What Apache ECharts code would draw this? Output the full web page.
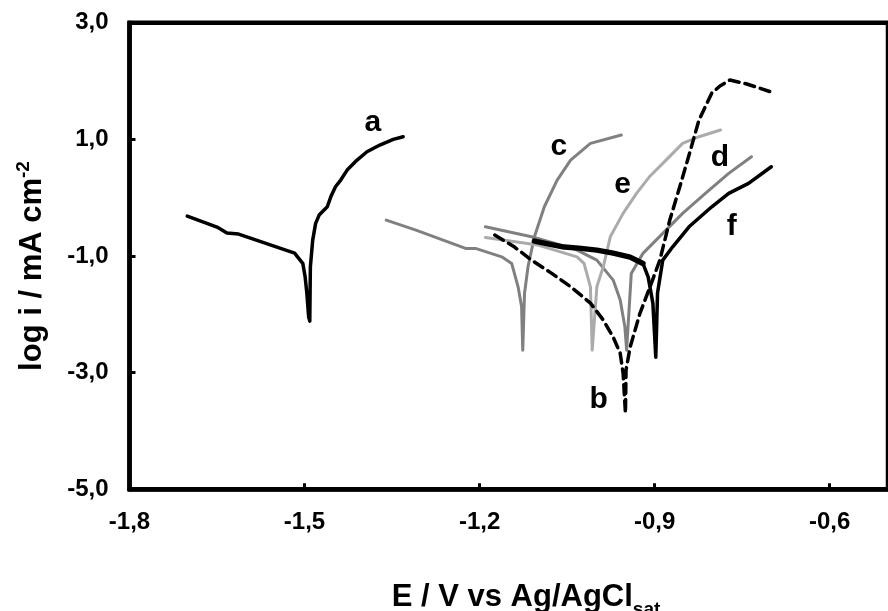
<!DOCTYPE html>
<html>
<head>
<meta charset="utf-8">
<script src="https://cdn.jsdelivr.net/npm/echarts@6/dist/echarts.min.js"></script>
<style>
html,body{margin:0;padding:0;background:#fff;}
#chart{width:888px;height:611px;}
</style>
</head>
<body>
<div id="chart"></div>
<script>
// Tick values
const xTicks = [-1.8, -1.5, -1.2, -0.9, -0.6];
const yTicks = [-5, -3, -1, 1, 3];

// Curve a
const aE = [-1.701,-1.650,-1.633,-1.613,-1.517,-1.512,-1.503,-1.499,-1.496,-1.493,-1.491,-1.490,-1.486,-1.481,-1.475,-1.461,-1.455,-1.447,-1.438,-1.427,-1.410,-1.393,-1.371,-1.348,-1.331];
const aLogI = [-0.316,-0.504,-0.607,-0.624,-0.950,-1.014,-1.127,-1.357,-1.642,-2.043,-2.117,-1.185,-0.727,-0.441,-0.298,-0.156,0.015,0.187,0.302,0.473,0.645,0.787,0.902,1.000,1.045];

// Curve b (dashed)
const bE = [-1.174,-1.140,-1.111,-1.077,-1.043,-1.010,-0.988,-0.971,-0.959,-0.954,-0.950,-0.949,-0.942,-0.925,-0.908,-0.891,-0.874,-0.857,-0.840,-0.824,-0.802,-0.788,-0.771,-0.742,-0.700];
const bLogI = [-0.641,-0.847,-1.070,-1.293,-1.533,-1.808,-2.099,-2.391,-2.666,-3.009,-3.695,-2.957,-2.563,-1.979,-1.533,-1.070,-0.384,0.182,0.765,1.331,1.794,1.914,2.017,1.949,1.811];

// Curve c
const cE = [-1.360,-1.309,-1.224,-1.207,-1.162,-1.145,-1.134,-1.128,-1.126,-1.123,-1.117,-1.106,-1.089,-1.067,-1.044,-1.010,-0.957];
const cLogI = [-0.384,-0.556,-0.870,-0.870,-1.014,-1.127,-1.528,-1.871,-2.614,-1.642,-1.185,-0.671,-0.156,0.302,0.645,0.931,1.074];

// Curve d
const dE = [-1.190,-1.111,-1.072,-1.033,-0.999,-0.971,-0.959,-0.951,-0.948,-0.940,-0.920,-0.886,-0.852,-0.813,-0.773,-0.734];
const dLogI = [-0.499,-0.671,-0.779,-0.899,-1.070,-1.413,-1.756,-2.214,-2.614,-1.298,-0.955,-0.612,-0.269,0.074,0.417,0.702];

// Curve e
const eE = [-1.190,-1.100,-1.033,-1.021,-1.010,-1.007,-0.999,-0.988,-0.976,-0.954,-0.931,-0.909,-0.886,-0.852,-0.824,-0.787];
const eLogI = [-0.681,-0.813,-1.014,-1.127,-1.528,-2.614,-1.528,-1.185,-0.671,-0.269,0.074,0.358,0.588,0.931,1.045,1.160];

// Curve f
const fE = [-1.106,-1.081,-1.055,-1.030,-0.999,-0.971,-0.942,-0.920,-0.911,-0.903,-0.898,-0.895,-0.886,-0.869,-0.841,-0.802,-0.773,-0.739,-0.700];
const fLogI = [-0.744,-0.796,-0.847,-0.865,-0.899,-0.950,-1.019,-1.127,-1.362,-1.808,-2.734,-1.636,-1.070,-0.842,-0.499,-0.156,0.074,0.245,0.530];
const fNoisyCount = 8; // leading points of f drawn with the heavier, noisy-looking stroke

// Curve labels and anchor points (data units)
const curveNames = ['a','b','c','d','e','f'];
const labelE = [-1.383,-0.996,-1.064,-0.788,-0.955,-0.768];
const labelLogI = [1.290,-3.472,0.868,0.679,0.216,-0.504];

const zip = (xs, ys) => xs.map((x, i) => [x, ys[i]]);
const FONT = 'Liberation Sans, Arial, sans-serif';

const chart = echarts.init(document.getElementById('chart'), null, {renderer: 'canvas'});

function lineSeries(name, xs, ys, color, width, type, z) {
  return {
    name: name, type: 'line', data: zip(xs, ys), symbol: 'none', smooth: false,
    lineStyle: {color: color, width: width, type: type || 'solid', cap: 'round', join: 'round'},
    z: z, silent: true
  };
}

const option = {
  animation: false,
  backgroundColor: '#fff',
  grid: {left: 129.5, top: 22.7, width: 768.8, height: 466.6, show: true, borderColor: '#000', borderWidth: 4.5, backgroundColor: 'transparent'},
  xAxis: {
    type: 'value', min: -1.8, max: -0.5,
    axisLine: {show: true, onZero: false, lineStyle: {color: '#000', width: 4.5}},
    axisTick: {show: true, inside: true, length: 6, lineStyle: {color: '#000', width: 3}, customValues: xTicks},
    axisLabel: {
      customValues: xTicks, margin: 21, color: '#000', fontSize: 24, fontWeight: 'bold', fontFamily: FONT,
      formatter: v => v.toFixed(1).replace('.', ',')
    },
    splitLine: {show: false}
  },
  yAxis: {
    type: 'value', min: -5, max: 3,
    axisLine: {show: true, onZero: false, lineStyle: {color: '#000', width: 4.5}},
    axisTick: {show: true, inside: true, length: 6, lineStyle: {color: '#000', width: 3}, customValues: yTicks},
    axisLabel: {
      customValues: yTicks, margin: 21, color: '#000', fontSize: 24, fontWeight: 'bold', fontFamily: FONT,
      formatter: v => v.toFixed(1).replace('.', ',')
    },
    splitLine: {show: false}
  },
  series: [
    lineSeries('c', cE, cLogI, '#808080', 3, 'solid', 2),
    lineSeries('d', dE, dLogI, '#808080', 3, 'solid', 2),
    lineSeries('e', eE, eLogI, '#ababab', 3, 'solid', 2),
    lineSeries('b', bE, bLogI, '#000', 3.5, [10, 6], 3),
    lineSeries('f', fE, fLogI, '#000', 3.5, 'solid', 4),
    lineSeries('f-noisy', fE.slice(0, fNoisyCount), fLogI.slice(0, fNoisyCount), '#000', 5.5, 'solid', 4),
    lineSeries('a', aE, aLogI, '#000', 3.5, 'solid', 4),
    {
      type: 'scatter', symbolSize: 0, silent: true, z: 5,
      itemStyle: {opacity: 1},
      data: curveNames.map((n, i) => ({value: [labelE[i], labelLogI[i]], name: n})),
      label: {show: true, position: 'inside', opacity: 1, formatter: p => p.name, color: '#000', fontSize: 30, fontWeight: 'bold', fontFamily: FONT}
    }
  ],
  graphic: [
    {
      type: 'text', x: 526, y: 596, silent: true,
      style: {
        text: '{m|E / V vs Ag/AgCl}{s|sat}', align: 'center', verticalAlign: 'middle',
        rich: {
          m: {fontSize: 31, fontWeight: 'bold', fontFamily: FONT, fill: '#000', lineHeight: 34, verticalAlign: 'bottom'},
          s: {fontSize: 19, fontWeight: 'bold', fontFamily: FONT, fill: '#000', lineHeight: 34, verticalAlign: 'bottom', padding: [0,0,-6,0]}
        }
      }
    },
    {
      type: 'text', x: 31, y: 266, rotation: Math.PI / 2, silent: true,
      style: {
        text: '{m|log i / mA cm}{s|-2}', align: 'center', verticalAlign: 'middle',
        rich: {
          m: {fontSize: 31, fontWeight: 'bold', fontFamily: FONT, fill: '#000', lineHeight: 34, verticalAlign: 'bottom'},
          s: {fontSize: 19, fontWeight: 'bold', fontFamily: FONT, fill: '#000', lineHeight: 34, verticalAlign: 'top'}
        }
      }
    }
  ]
};
chart.setOption(option);
</script>
</body>
</html>
